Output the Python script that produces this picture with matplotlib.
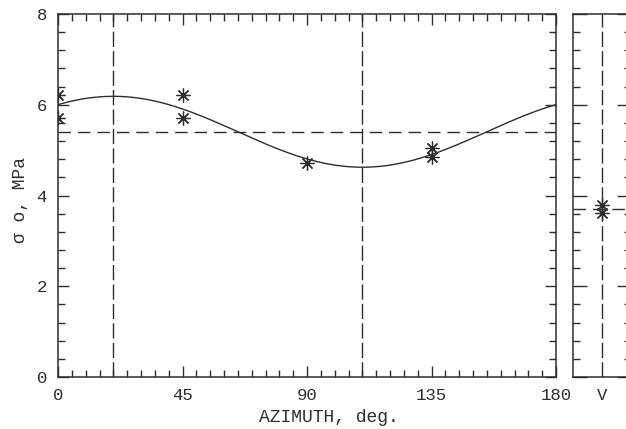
import numpy as np
import matplotlib
matplotlib.use("Agg")
import matplotlib.pyplot as plt
from matplotlib.ticker import MultipleLocator

# ---- data ----
azimuth = [0, 0, 45, 45, 90, 135, 135]
sigma0 = [6.21, 5.70, 6.21, 5.70, 4.71, 5.05, 4.85]
vert_vals = [3.79, 3.61]
xticks_main = [0, 45, 90, 135, 180]
yticks_main = [0, 2, 4, 6, 8]

# least-squares fit  s = m + a cos2t + b sin2t  to the measured points
t = np.radians(azimuth)
A = np.column_stack([np.ones_like(t), np.cos(2 * t), np.sin(2 * t)])
m, a, b = np.linalg.lstsq(A, np.array(sigma0), rcond=None)[0]
phi = np.degrees(0.5 * np.arctan2(b, a)) % 180
tt = np.linspace(0, 180, 361)
fit = m + a * np.cos(2 * np.radians(tt)) + b * np.sin(2 * np.radians(tt))
v_mean = np.mean(vert_vals)

col = "#2e2e2e"
mono = "Liberation Mono"
W, H = 626, 429
fig = plt.figure(figsize=(W / 100, H / 100), dpi=100)

ax = fig.add_axes([58 / W, 1 - 377 / H, 498 / W, 363 / H])
ax.plot(tt, fit, color=col, lw=1.0)
ax.axhline(m, color=col, lw=1.0, dashes=(9, 5))
for xv in (phi, phi + 90):
    ax.axvline(xv, color=col, lw=1.0, dashes=(11, 3))
ax.plot(azimuth, sigma0, ls="none", marker=(8, 2, 0), ms=10, mew=0.9, color=col)
ax.set_xlim(0, 180)
ax.set_ylim(0, 8)
ax.set_xticks(xticks_main)
ax.set_yticks(yticks_main)
ax.xaxis.set_minor_locator(MultipleLocator(5))
ax.yaxis.set_minor_locator(MultipleLocator(0.4))
ax.tick_params(which="both", direction="in", top=True, right=True, color=col,
               labelsize=12.5, labelcolor=col, pad=8, width=1)
ax.tick_params(which="major", length=8)
ax.tick_params(which="minor", length=5)
for lab in ax.get_xticklabels() + ax.get_yticklabels():
    lab.set_fontfamily(mono)
for s in ax.spines.values():
    s.set_color(col)
    s.set_linewidth(1.1)

fig.text(329 / W, 1 - 418 / H, "AZIMUTH, deg.", family=mono, fontsize=13,
         color=col, ha="center", va="center")
fig.text(20 / W, 1 - 200 / H, "σ o, MPa", family=[mono, "DejaVu Sans"], fontsize=13,
         color=col, ha="center", va="center", rotation=90)

# right panel (vertical)
ax2 = fig.add_axes([573 / W, 1 - 377 / H, 58 / W, 363 / H])
ax2.axhline(v_mean, color=col, lw=1.0, dashes=(9, 5))
ax2.axvline(1, color=col, lw=1.0, dashes=(11, 3))
ax2.plot([1] * len(vert_vals), vert_vals, ls="none", marker=(8, 2, 0), ms=10,
         mew=0.9, color=col)
ax2.set_xlim(0, 2)
ax2.set_ylim(0, 8)
ax2.set_xticks([1])
ax2.set_xticklabels(["V"], family=mono, fontsize=12.5, color=col)
ax2.set_yticks(yticks_main)
ax2.set_yticklabels([])
ax2.yaxis.set_minor_locator(MultipleLocator(0.4))
ax2.tick_params(axis="x", length=0, pad=8)
ax2.tick_params(axis="y", which="both", direction="in", right=True, color=col, width=1)
ax2.tick_params(axis="y", which="major", length=10)
ax2.tick_params(axis="y", which="minor", length=5)
for s in ax2.spines.values():
    s.set_color(col)
    s.set_linewidth(1.1)

fig.savefig("out.png", dpi=100, facecolor="white")
